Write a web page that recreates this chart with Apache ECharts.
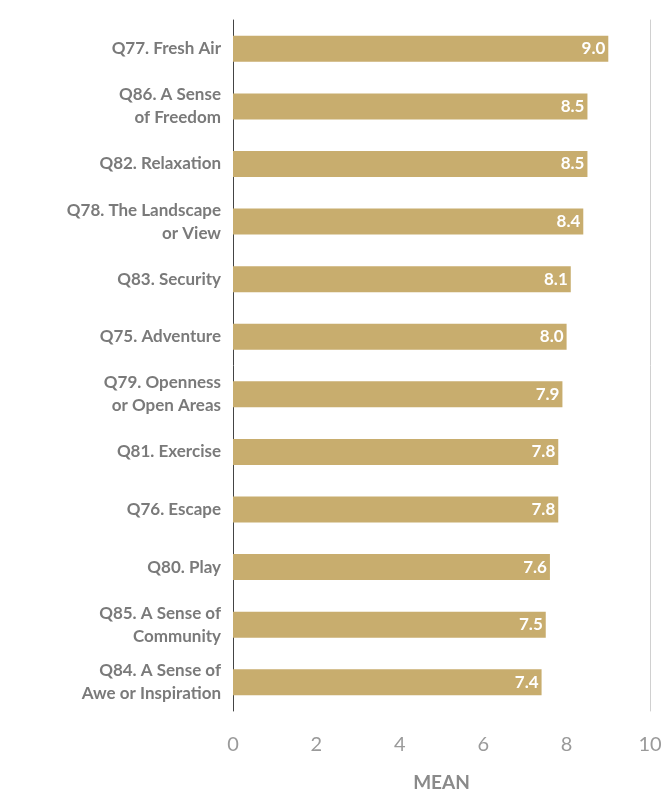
<!DOCTYPE html>
<html><head><meta charset="utf-8">
<script src="https://cdn.jsdelivr.net/npm/echarts@6/dist/echarts.min.js"></script>
<style>html,body{margin:0;padding:0;background:#fff}#c{width:667px;height:797px}</style>
</head><body><div id="c"></div>
<script>
const categories = ["Q77. Fresh Air","Q86. A Sense\nof Freedom","Q82. Relaxation","Q78. The Landscape\nor View","Q83. Security","Q75. Adventure","Q79. Openness\nor Open Areas","Q81. Exercise","Q76. Escape","Q80. Play","Q85. A Sense of\nCommunity","Q84. A Sense of\nAwe or Inspiration"];
const means = [9.0,8.5,8.5,8.4,8.1,8.0,7.9,7.8,7.8,7.6,7.5,7.4];
const xTicks = [0,2,4,6,8,10];
const chart = echarts.init(document.getElementById('c'));
chart.setOption({
  animation:false,
  grid:{left:233,right:17,top:20,bottom:83},
  xAxis:{type:'value',min:0,max:10,interval:2,
    name:'MEAN',nameLocation:'middle',nameGap:62,
    nameTextStyle:{color:'#8a8a8a',fontSize:19,fontFamily:'Lato',fontWeight:'bold'},
    axisLine:{show:false},axisTick:{show:false},splitLine:{show:false},
    axisLabel:{color:'#9a9a9a',fontSize:20,fontFamily:'Lato',margin:24,
      formatter:v=>xTicks.includes(v)?String(v):''}},
  yAxis:[{type:'category',data:categories,inverse:true,
    axisLine:{show:true,lineStyle:{color:'#444',width:1}},axisTick:{show:false},
    axisLabel:{color:'#7a7a7a',fontSize:17,fontFamily:'Lato',fontWeight:'bold',margin:12,lineHeight:23,align:'right'}},
    {type:'category',data:categories,inverse:true,position:'right',
    axisLine:{show:true,lineStyle:{color:'#d0d0d0',width:1}},axisTick:{show:false},axisLabel:{show:false}}],
  series:[{type:'bar',data:means,barWidth:26,
    itemStyle:{color:'#c8ad6e'},
    label:{show:true,position:'insideRight',color:'#fff',fontSize:17,fontFamily:'Lato',fontWeight:'bold',
      formatter:p=>p.value.toFixed(1),offset:[2,0]}}]
});
</script></body></html>
